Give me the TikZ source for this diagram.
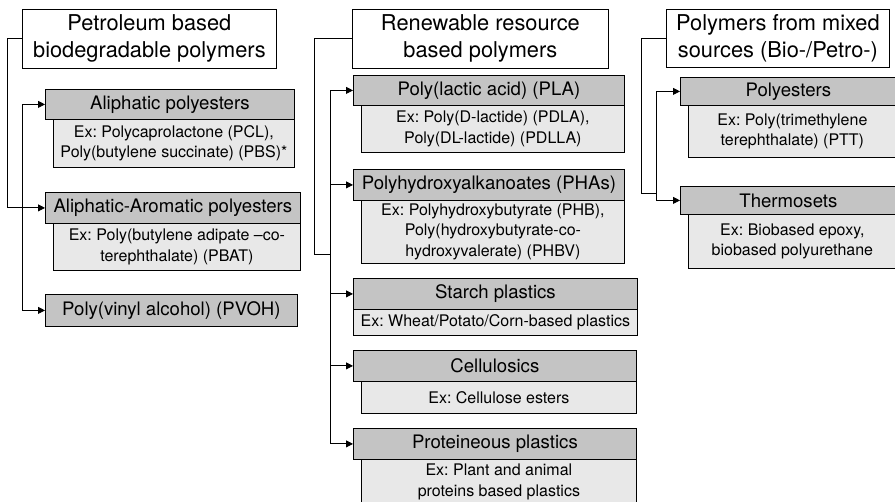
\documentclass[tikz,border=0pt]{standalone}
\usepackage{fontspec}
\setmainfont{TeX Gyre Heros}
\usetikzlibrary{arrows.meta}
\frenchspacing

\begin{document}
\begin{tikzpicture}[
  x=1pt, y=-1pt,
  line width=0.8pt,
  header/.style={draw, fill=white, anchor=north west, align=center, inner sep=0pt, font=\fontsize{21.8}{27}\selectfont},
  classbox/.style={draw, fill=classFill, anchor=north west, align=center, inner sep=0pt, font=\fontsize{18.6}{20}\selectfont},
  examplebox/.style={draw, fill=exampleFill, anchor=north west, align=center, inner sep=0pt, font=\fontsize{16}{20.5}\selectfont},
  tip/.style={-{Triangle[length=7pt,width=7pt]}},
  tipboth/.style={{Triangle[length=7pt,width=7pt]}-{Triangle[length=7pt,width=7pt]}},
]

\definecolor{classFill}{gray}{0.77}
\definecolor{exampleFill}{gray}{0.91}

\useasboundingbox (0,0) rectangle (895,502);
\clip (0,0) rectangle (895,502);

% Column headers.
\node[header, minimum width=254, minimum height=59] (petro) at (22,9) {Petroleum based\\biodegradable polymers};
\node[header, minimum width=256, minimum height=59] (renew) at (352,9) {Renewable resource\\based polymers};
\node[header, minimum width=223, minimum height=58] (mixed) at (666,9) {Polymers from mixed\\sources (Bio-/Petro-)};

% Petroleum based.
\node[classbox, minimum width=249, minimum height=30] (aliph) at (45,89) {Aliphatic polyesters};
\node[examplebox, minimum width=241, minimum height=48] (aliphex) at (53,119) {Ex: Polycaprolactone (PCL),\\Poly(butylene succinate) (PBS)*};
\node[classbox, minimum width=255, minimum height=31] (aliar) at (45,192) {Aliphatic-Aromatic polyesters};
\node[examplebox, minimum width=247, minimum height=47] (aliarex) at (53,223) {Ex: Poly(butylene adipate –co-\\terephthalate) (PBAT)};
\node[classbox, minimum width=252, minimum height=32] (pvoh) at (45,294) {Poly(vinyl alcohol) (PVOH)};

% Renewable resource based.
\node[classbox, minimum width=271, minimum height=30] (pla) at (353,75) {Poly(lactic acid) (PLA)};
\node[examplebox, minimum width=263, minimum height=47] (plaex) at (361,105) {Ex: Poly(D-lactide) (PDLA),\\Poly(DL-lactide) (PDLLA)};
\node[classbox, minimum width=271, minimum height=31] (pha) at (353,169) {Polyhydroxyalkanoates (PHAs)};
\node[examplebox, minimum width=263, minimum height=63] (phaex) at (361,200) {Ex: Polyhydroxybutyrate (PHB),\\Poly(hydroxybutyrate-co-\\hydroxyvalerate) (PHBV)};
\node[classbox, minimum width=284, minimum height=31] (starch) at (353,278) {Starch plastics};
\node[examplebox, minimum width=284, minimum height=26] (starchex) at (353,309) {Ex: Wheat/Potato/Corn-based plastics};
\node[classbox, minimum width=283, minimum height=31] (cell) at (353,350) {Cellulosics};
\node[examplebox, minimum width=275, minimum height=32] (cellex) at (361,381) {Ex: Cellulose esters};
\node[classbox, minimum width=283, minimum height=31] (prot) at (353,428) {Proteineous plastics};
\node[examplebox, minimum width=275, minimum height=45] (protex) at (361,459) {Ex: Plant and animal\\proteins based plastics};

% Mixed sources.
\node[classbox, minimum width=216, minimum height=28] (poly) at (680,77) {Polyesters};
\node[examplebox, minimum width=208, minimum height=52] (polyex) at (688,105) {Ex: Poly(trimethylene\\terephthalate) (PTT)};
\node[classbox, minimum width=216, minimum height=28] (thermo) at (680,186) {Thermosets};
\node[examplebox, minimum width=208, minimum height=54] (thermoex) at (688,214) {Ex: Biobased epoxy,\\biobased polyurethane};

% Connectors.
\coordinate (pout) at (7,0);
\coordinate (pbus) at (22,0);
\draw[tip] (petro.west) -- (petro.west -| pout) |- (aliar.west);
\draw[tipboth] (aliph.west) -| (pbus |- pvoh.west) -- (pvoh.west);

\coordinate (rout) at (314,254);
\coordinate (rjoin) at (330,254);
\draw (renew.west) -| (rout) -- (rjoin);
\draw[tipboth] (pla.west) -| (rjoin |- prot.west) -- (prot.west);
\foreach \n in {pha,starch,cell}
  \draw[tip] (rjoin |- \n.west) -- (\n.west);

\coordinate (mout) at (641,193);
\coordinate (mjoin) at (656,193);
\draw (mixed.west) -| (mout) -- (mjoin);
\draw[tipboth] (poly.west) -| (mjoin |- thermo.west) -- (thermo.west);

\end{tikzpicture}
\end{document}
